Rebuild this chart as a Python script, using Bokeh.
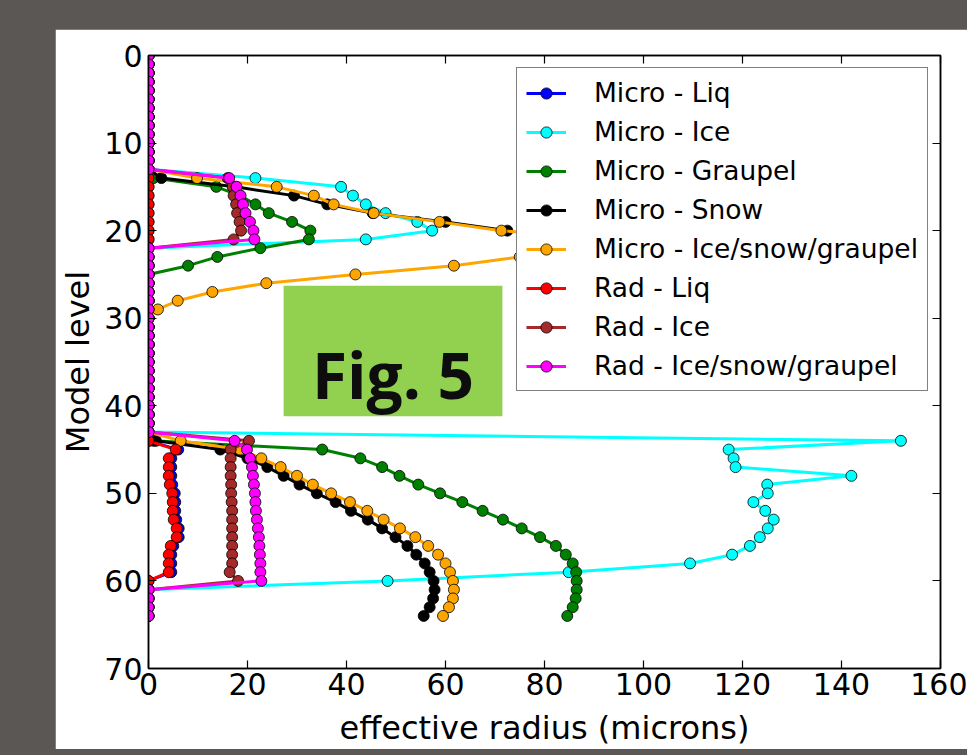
import numpy as np
from bokeh.plotting import figure
from bokeh.models import (Range1d, Legend, LegendItem, LinearAxis, FixedTicker,
                          BoxAnnotation, Label, Spacer, ColumnDataSource)
from bokeh.layouts import column, row
from bokeh.embed import file_html
from bokeh.resources import INLINE

nan = float("nan")

# ---------------- data ----------------
levels = list(range(65))          # model levels 0..64

micro_liq = [
    0, 0, 0, 0, 0, 0, 0, 0, 0, 0,                              # 0-9
    0, 0, 0, 0, 0, 0, 0, 0, 0, 0,                              # 10-19
    0, 0, 0, 0, 0, 0, 0, 0, 0, 0,                              # 20-29
    0, 0, 0, 0, 0, 0, 0, 0, 0, 0,                              # 30-39
    0, 0, 0, 0, 0, 6.0, 4.6, 4.6, 4.6, 4.8,                    # 40-49
    5.3, 5.4, 5.4, 5.6, 6.1, 6.1, 5.0, 4.6, 4.6, 4.6,          # 50-59
    0, 0, 0, 0, 0]                                             # 60-64

micro_ice = [
    0, 0, 0, 0, 0, 0, 0, 0, 0, 0,
    0, 0, 0, 0, 21.6, 38.9, 41.3, 43.9, 47.9, 54.3,
    57.3, 43.9, 0, 0, 0, 0, 0, 0, 0, 0,
    0, 0, 0, 0, 0, 0, 0, 0, 0, 0,
    0, 0, 0, 0, 152.0, 117.2, 118.2, 118.6, 142.0, 125.0,
    125.1, 122.2, 124.6, 126.3, 125.1, 123.5, 121.5, 117.9, 109.4, 84.9,
    48.3, 0, 0, 0, 0]

micro_graupel = [
    0, 0, 0, 0, 0, 0, 0, 0, 0, 0,
    0, 0, 0, 0, 1.0, 13.7, 18.5, 21.6, 24.3, 29.0,
    32.7, 32.4, 22.6, 13.9, 8.0, 0, 0, 0, 0, 0,
    0, 0, 0, 0, 0, 0, 0, 0, 0, 0,
    0, 0, 0, 0, 1.0, 35.1, 42.8, 47.2, 50.7, 54.5,
    58.9, 63.4, 67.5, 71.6, 75.4, 79.1, 82.3, 84.3, 85.7, 86.4,
    86.5, 86.5, 86.3, 85.7, 84.6]

micro_snow = [
    0, 0, 0, 0, 0, 0, 0, 0, 0, 0,
    0, 0, 0, 0, 2.6, 17.5, 29.4, 36.1, 45.3, 60.0,
    72.5, nan, nan, nan, 0, 0, 0, 0, 0, 0,
    0, 0, 0, 0, 0, 0, 0, 0, 0, 0,
    0, 0, 0, 0, 1.5, 14.5, 20.0, 24.0, 27.3, 30.5,
    34.0, 37.8, 40.9, 44.3, 47.2, 49.9, 52.3, 54.1, 55.8, 56.8,
    57.6, 57.8, 57.5, 56.8, 55.6]

micro_isg = [
    0, 0, 0, 0, 0, 0, 0, 0, 0, 0,
    0, 0, 0, 0, 9.8, 25.9, 33.4, 37.4, 45.5, 58.8,
    71.3, 95.0, 90.0, 75.0, 61.7, 41.8, 23.8, 12.9, 5.9, 1.9,
    0, 0, 0, 0, 0, 0, 0, 0, 0, 0,
    0, 0, 0, 0, 6.5, 18.5, 22.8, 26.7, 30.0, 33.2,
    36.9, 40.7, 44.2, 47.5, 50.8, 53.9, 56.5, 58.5, 60.0, 60.9,
    61.5, 61.7, 61.5, 60.7, 59.5]

rad_liq = [
    0, 0, 0, 0, 0, 0, 0, 0, 0, 0,
    0, 0, 0, 0, 0, 0, 0, 0, 0, 0,
    0, 0, 0, 0, 0, 0, 0, 0, 0, 0,
    0, 0, 0, 0, 0, 0, 0, 0, 0, 0,
    0, 0, 0, 0, 0, 5.5, 4.1, 4.1, 4.1, 4.3,
    4.8, 4.9, 4.9, 5.1, 5.7, 5.7, 4.5, 4.1, 4.1, 4.1,
    0, 0, 0, 0, 0]

rad_ice = [
    0, 0, 0, 0, 0, 0, 0, 0, 0, 0,
    0, 0, 0, 0, 16.0, 17.0, 17.2, 17.7, 17.9, 18.4,
    18.7, 17.2, 0, 0, 0, 0, 0, 0, 0, 0,
    0, 0, 0, 0, 0, 0, 0, 0, 0, 0,
    0, 0, 0, 0, 20.3, 16.6, 16.6, 16.6, 16.6, 16.7,
    16.7, 16.8, 16.9, 16.9, 16.9, 16.9, 16.9, 16.9, 16.9, 16.4,
    18.1, 0, 0, 0, 0]

rad_isg = [
    0, 0, 0, 0, 0, 0, 0, 0, 0, 0,
    0, 0, 0, 0, 16.3, 17.8, 18.6, 19.1, 19.6, 20.5,
    21.2, 21.4, 0, 0, 0, 0, 0, 0, 0, 0,
    0, 0, 0, 0, 0, 0, 0, 0, 0, 0,
    0, 0, 0, 0, 17.4, 19.9, 20.5, 20.9, 21.1, 21.3,
    21.5, 21.6, 21.7, 21.9, 22.1, 22.3, 22.4, 22.5, 22.6, 22.6,
    22.8, 0, 0, 0, 0]

series_labels = ["Micro - Liq", "Micro - Ice", "Micro - Graupel", "Micro - Snow",
                 "Micro - Ice/snow/graupel", "Rad - Liq", "Rad - Ice",
                 "Rad - Ice/snow/graupel"]
series_values = [micro_liq, micro_ice, micro_graupel, micro_snow,
                 micro_isg, rad_liq, rad_ice, rad_isg]

x_ticks = [0, 20, 40, 60, 80, 100, 120, 140, 160]
y_ticks = [0, 10, 20, 30, 40, 50, 60, 70]
x_label = "effective radius (microns)"
y_label = "Model level"
overlay_text = "Fig. 5"

# ---------------- styles ----------------
series_colors = ["#0000ff", "#00ffff", "#008000", "#000000",
                 "#ffa500", "#ff0000", "#a52a2a", "#ff00ff"]
FONT = "DejaVu Sans"
SLIDE_BG = "#5a5755"

p = figure(frame_width=792, frame_height=613,
           x_range=Range1d(0, 160), y_range=Range1d(70, 0),
           output_backend="svg", toolbar_location=None,
           min_border_left=93, min_border_right=27,
           min_border_top=26, min_border_bottom=77,
           background_fill_color="white", border_fill_color="white")
p.grid.visible = False
p.outline_line_color = "black"
p.outline_line_width = 1.5

for ax, ticks in ((p.xaxis[0], x_ticks), (p.yaxis[0], y_ticks)):
    ax.ticker = FixedTicker(ticks=ticks)
    ax.major_tick_in = 8
    ax.major_tick_out = 0
    ax.minor_tick_line_color = None
    ax.axis_line_width = 1.5
    ax.major_tick_line_width = 1.2
    ax.major_label_text_font = FONT
    ax.major_label_text_font_size = "30px"
    ax.major_label_text_color = "black"
    ax.axis_label_text_font = FONT
    ax.axis_label_text_font_size = "32px"
    ax.axis_label_text_font_style = "normal"
    ax.axis_label_text_color = "black"

p.xaxis.axis_label = x_label
p.yaxis.axis_label = y_label
p.xaxis.major_label_standoff = 4
p.xaxis.axis_label_standoff = 11
p.yaxis.major_label_standoff = 6
p.yaxis.axis_label_standoff = 4

# tick marks only (no labels) on the top and right edges
for loc, ticks in (("above", x_ticks), ("right", y_ticks)):
    extra = LinearAxis(ticker=FixedTicker(ticks=ticks),
                       major_tick_in=8, major_tick_out=0,
                       minor_tick_line_color=None, axis_line_width=1.5,
                       major_tick_line_width=1.2,
                       major_label_overrides={t: "" for t in ticks},
                       major_label_text_font_size="2px",
                       major_label_standoff=0)
    p.add_layout(extra, loc)

items = []
for label, vals, color in zip(series_labels, series_values, series_colors):
    src = ColumnDataSource(dict(x=np.array(vals, dtype=float),
                                y=np.array(levels, dtype=float)))
    lr = p.line("x", "y", source=src, line_color=color, line_width=3)
    sr = p.scatter("x", "y", source=src, size=11, fill_color=color,
                   line_color="black", line_width=0.8)
    items.append(LegendItem(label=label, renderers=[lr, sr]))

legend = Legend(items=items, location="top_right", margin=12,
                padding=9, spacing=8, glyph_width=40, glyph_height=28,
                label_height=28, label_standoff=28,
                label_text_font=FONT, label_text_font_size="26.5px",
                label_text_color="black",
                border_line_color="black", border_line_width=1.5,
                background_fill_color="white", background_fill_alpha=1.0)
p.add_layout(legend)

fig_box = BoxAnnotation(left=27.3, right=71.5, top=26.3, bottom=41.2,
                        fill_color="#92d050", fill_alpha=1.0, line_color=None)
p.add_layout(fig_box)
p.add_layout(Label(x=49.4, y=36.4, text=overlay_text, text_font="Open Sans",
                   text_font_style="bold", text_font_size="64px",
                   text_color="#0d0d0d", text_align="center",
                   text_baseline="alphabetic"))

layout = column(
    Spacer(width=967, height=29, styles={"background-color": SLIDE_BG}),
    row(Spacer(width=55, height=716, styles={"background-color": SLIDE_BG}), p),
    Spacer(width=967, height=10, styles={"background-color": SLIDE_BG}),
    styles={"background-color": SLIDE_BG},
)

open("out.html", "w").write(file_html(layout, INLINE))
